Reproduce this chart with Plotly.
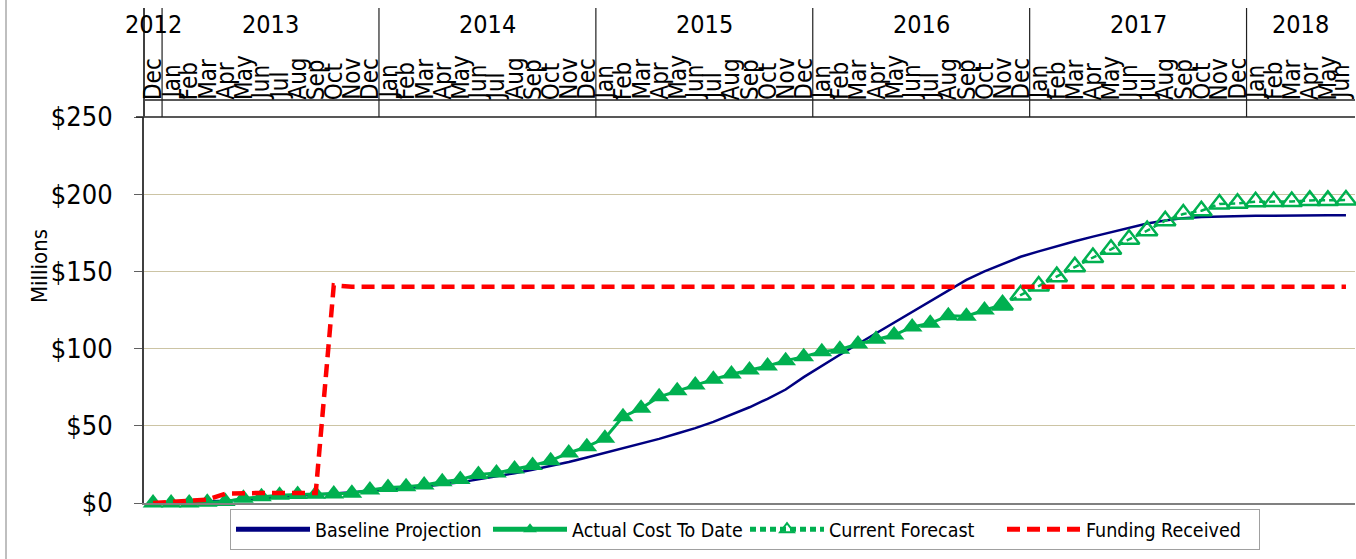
import plotly.graph_objects as go

# Month / year labels for the top axis (Dec 2012 .. Jun 2018)
MONTHS = ["Jan", "Feb", "Mar", "Apr", "May", "Jun",
          "Jul", "Aug", "Sep", "Oct", "Nov", "Dec"]
month_labels = ["Dec"] + MONTHS * 5 + MONTHS[:6]
years = ["2012", "2013", "2014", "2015", "2016", "2017", "2018"]
months_per_year = [1, 12, 12, 12, 12, 12, 6]
y_ticks = [0, 50, 100, 150, 200, 250]
y_tick_text = ["$0", "$50", "$100", "$150", "$200", "$250"]

# Cumulative values, $ millions
baseline = [0, 0.3, 0.6, 1.0, 1.5, 2.3, 3.0, 3.8, 4.6, 5.4, 6.2, 7.0,
            7.8, 8.7, 9.6, 10.7, 12.0, 13.5, 15.3, 17.2, 19.3, 21.5, 24.0, 26.5,
            29.5, 32.5, 35.5, 38.5, 41.5, 45.0, 48.5, 52.5, 57.0, 62.0, 67.5, 73.5,
            81.5, 89.0, 96.0, 103.0, 110.0, 117.0, 124.0, 131.0, 138.0, 144.5, 150.0, 155.0,
            159.5, 163.0, 166.5, 169.5, 172.5, 175.5, 178.5, 181.0, 183.0, 184.5, 185.2, 185.6,
            186.0, 186.0, 186.0, 186.2, 186.3, 186.3, 186.3]
actual = [0, 0, 0, 0.5, 1.0, 3.0, 4.0, 5.0, 5.5, 5.7, 5.9, 6.3,
          8.4, 10.0, 10.6, 11.7, 13.8, 15.3, 18.4, 19.5, 22.0, 24.3, 27.4, 32.4,
          36.5, 41.9, 55.9, 61.3, 68.8, 72.7, 76.4, 80.1, 83.5, 86.1, 88.7, 92.2,
          94.8, 98.0, 99.5, 103.0, 106.0, 108.8, 114.0, 116.4, 121.3, 121.0, 125.0, 128.2]
forecast = [128.2, 134.7, 140.5, 146.6, 153.0, 159.0, 164.3, 170.8, 176.4, 182.8,
            187.2, 189.3, 193.6, 194.1, 195.1, 195.2, 195.3, 196.0, 196.0, 196.2]
funding = [0, 0.5, 1.0, 2.2, 6.0, 6.5, 6.5, 6.5, 6.5, 6.5, 141.0, 140.0] + [140.0] * 55

FONT = "Liberation Sans Narrow, Arial Narrow, DejaVu Sans Condensed, sans-serif"
GREEN = "#00B050"
NAVY = "#000080"
RED = "#FF0000"

n = len(month_labels)
idx = list(range(n))
fc_start = len(actual) - 1

fig = go.Figure()

fig.add_trace(go.Scatter(
    x=idx, y=baseline, mode="lines", name="Baseline Projection",
    line=dict(color=NAVY, width=2.5), legendrank=1))
fig.add_trace(go.Scatter(
    x=idx[fc_start:], y=forecast, mode="lines+markers", name="Current Forecast",
    line=dict(color=GREEN, width=2.5, dash="6px,4px"),
    marker=dict(symbol="triangle-up-open", size=18, color=GREEN,
                line=dict(width=2.5, color=GREEN)),
    cliponaxis=False, legendrank=3))
fig.add_trace(go.Scatter(
    x=idx[:len(actual)], y=actual, mode="lines+markers", name="Actual Cost To Date",
    line=dict(color=GREEN, width=3),
    marker=dict(symbol="triangle-up", size=18, color=GREEN),
    cliponaxis=False, legendrank=2))
fig.add_trace(go.Scatter(
    x=idx, y=funding, mode="lines", name="Funding Received",
    line=dict(color=RED, width=4.5, dash="13px,7px"), legendrank=4))

# Plot-area geometry (pixels) used for paper-coordinate decorations
W, H = 1356, 559
L, R, T, B = 144, 1, 117, 56
pw, ph = W - L - R, H - T - B


def px_x(p):
    return (p - L) / pw


def px_y(p):
    return (H - B - p) / ph


shapes = []
# top border of the plot area
shapes.append(dict(type="line", xref="paper", yref="paper",
                   x0=px_x(136), x1=1.0, y0=1.0, y1=1.0,
                   line=dict(color="#202020", width=1.5)))
# baseline under the month labels
shapes.append(dict(type="line", xref="paper", yref="paper",
                   x0=0, x1=1.0, y0=px_y(100), y1=px_y(100),
                   line=dict(color="#202020", width=1.5)))
# left axis extended through the header
shapes.append(dict(type="line", xref="paper", yref="paper",
                   x0=0, x1=0, y0=1.0, y1=px_y(8),
                   line=dict(color="#404040", width=2)))
# year separators
pos = -0.5
year_centres = []
for k, cnt in enumerate(months_per_year):
    year_centres.append(pos + cnt / 2)
    pos += cnt
    if k < len(months_per_year) - 1:
        shapes.append(dict(type="line", xref="x", yref="paper",
                           x0=pos, x1=pos, y0=1.0, y1=px_y(8),
                           line=dict(color="#202020", width=1.2)))
# outer chart-area frame edge
shapes.append(dict(type="line", xref="paper", yref="paper",
                   x0=px_x(6), x1=px_x(6), y0=px_y(0), y1=px_y(H),
                   line=dict(color="#BFBFBF", width=2)))

annotations = []
for i, lab in enumerate(month_labels):
    annotations.append(dict(x=i, y=px_y(101), xref="x", yref="paper",
                            text=lab, showarrow=False, textangle=-90,
                            xanchor="center", yanchor="bottom",
                            xshift=-5 if i == n - 1 else 0,
                            font=dict(family=FONT, size=24, color="#000000"),
                            borderpad=0))
for c, yr in zip(year_centres, years):
    annotations.append(dict(x=c, y=px_y(24), xref="x", yref="paper",
                            text=yr, showarrow=False,
                            xanchor="center", yanchor="middle",
                            font=dict(family=FONT, size=25, color="#000000")))
annotations.append(dict(x=px_x(39), y=px_y(266), xref="paper", yref="paper",
                        text="Millions", showarrow=False, textangle=-90,
                        xanchor="center", yanchor="middle",
                        font=dict(family=FONT, size=22, color="#000000")))

fig.update_layout(
    width=W, height=H,
    margin=dict(l=L, r=R, t=T, b=B, pad=0),
    paper_bgcolor="white", plot_bgcolor="white",
    font=dict(family=FONT, size=20, color="#000000"),
    showlegend=True,
    legend=dict(orientation="h", x=px_x(230), y=px_y(509),
                xanchor="left", yanchor="top",
                bordercolor="#A0A0A0", borderwidth=1, bgcolor="white",
                font=dict(family=FONT, size=19.5, color="#000000"),
                traceorder="normal", itemwidth=74, itemsizing="constant",
                entrywidth=168),
    xaxis=dict(range=[-0.5, n - 0.5], showgrid=False, zeroline=False,
               showticklabels=False, ticks="", showline=True,
               linecolor="#808080", linewidth=2),
    yaxis=dict(range=[0, 250], tickmode="array", tickvals=y_ticks,
               ticktext=y_tick_text,
               showgrid=True, gridcolor="#CCC4A4", gridwidth=1.2,
               zeroline=False, showline=True, linecolor="#404040", linewidth=2,
               ticks="outside", ticklen=8, tickcolor="#606060",
               tickfont=dict(family=FONT, size=27, color="#000000"),
               ticklabelstandoff=16),
    shapes=shapes,
    annotations=annotations,
)

fig.write_html("out.html")
